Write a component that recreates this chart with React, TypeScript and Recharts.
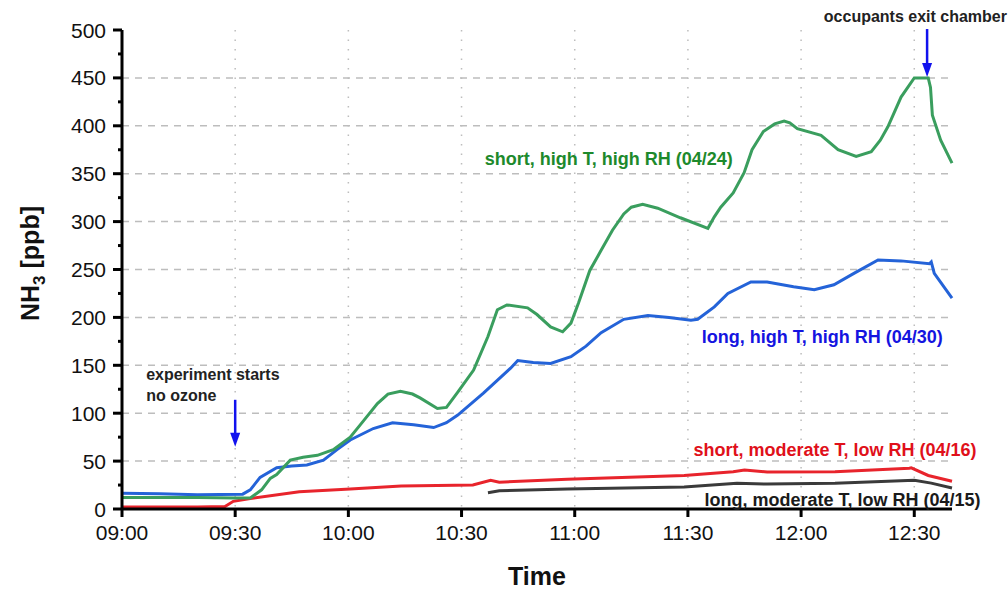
import React from "react";
import {
  CartesianGrid,
  Line,
  LineChart,
  ReferenceDot,
  ReferenceLine,
  XAxis,
  YAxis,
} from "recharts";

// minutes after 09:00 -> NH3 [ppb]
const shortHighT = [
  [0, 12], [10, 12], [20, 12], [30, 11.5], [34, 11.5], [37, 20], [39.3, 32], [41, 36],
  [44.6, 51], [48, 54], [51.8, 56], [56, 62], [60.5, 75], [64, 92], [67.7, 110],
  [70.5, 120], [73.8, 123], [77, 120], [79, 116], [83.6, 105], [86, 106], [89, 122],
  [93.2, 145], [97, 180], [99.5, 208], [102, 213], [107.5, 210], [110, 203],
  [113.6, 190], [116.8, 185], [119, 194], [121, 215], [124, 249], [127, 270],
  [130, 291], [133, 308], [135, 315], [138, 318], [142, 314], [148, 304],
  [155.3, 293], [157, 305], [158.7, 315], [162, 330], [164.9, 351], [167, 375],
  [170, 394], [173, 402], [175.5, 405], [177, 403], [179, 397], [185.3, 390],
  [189.8, 375], [194.6, 368], [198.6, 373], [201, 385], [203, 399], [206.5, 430],
  [210, 450], [213.7, 450], [214.3, 440], [214.8, 411], [217, 385], [220, 361],
];

const longHighT = [
  [0, 16.5], [10, 16], [20, 15], [32, 15.5], [34, 20], [36.6, 33], [41, 43], [45, 45],
  [49, 46], [53.4, 51], [57, 62], [60.5, 72], [66.6, 84], [71.7, 90], [77.3, 88],
  [82.6, 85], [86, 90], [89, 98], [95.8, 121], [103, 147], [104.9, 155], [109, 153],
  [113.6, 152], [119, 159], [123, 170], [127, 184], [133, 198], [139.4, 202],
  [145, 200], [150.8, 197], [152.6, 198], [157, 211], [160.6, 225], [166.7, 237],
  [171, 237], [178, 232], [183.5, 229], [188.7, 234], [194, 246], [200.4, 260],
  [206.5, 259], [214, 256], [214.5, 258], [215.3, 246], [220, 220],
];

const shortModT = [
  [0, 2], [10, 2], [20, 2], [27.3, 2.5], [29.5, 8], [34, 11], [47, 18], [60.5, 21],
  [74, 24], [93, 25], [97.7, 30], [100, 28], [118, 31], [149, 35], [162, 39],
  [165, 40.7], [171, 38.6], [189, 39], [208.7, 42.6], [209.2, 43], [213.7, 35], [220, 29],
];

const longModT = [
  [97, 17], [100, 19], [118, 21], [149, 23], [163, 27], [171, 26], [189, 27],
  [210, 30], [214.5, 27], [220, 22],
];

const timeTicks = [0, 30, 60, 90, 120, 150, 180, 210];
const timeLabels = ["09:00", "09:30", "10:00", "10:30", "11:00", "11:30", "12:00", "12:30"];
const yTicks = [0, 25, 50, 75, 100, 125, 150, 175, 200, 225, 250, 275, 300, 325, 350, 375, 400, 425, 450, 475, 500];
const gridY = [50, 100, 150, 200, 250, 300, 350, 400, 450];
const gridX = [30, 60, 90, 120, 150, 180, 210];

const seriesLabels = [
  { text: "short, high T, high RH (04/24)", t: 129, v: 366, color: "#1d8a2c" },
  { text: "long, high T, high RH (04/30)", t: 185.6, v: 180, color: "#1414e0" },
  { text: "short, moderate T, low RH (04/16)", t: 189, v: 62.5, color: "#e0101a" },
  { text: "long, moderate T, low RH (04/15)", t: 191, v: 9.5, color: "#1a1a1a" },
];

const toPoints = (rows: number[][]) => rows.map(([t, v]) => ({ t, v }));

const FONT = "'Liberation Sans', Arial, sans-serif";

const YTick = (props: any) => {
  const { x, y, payload } = props;
  const major = payload.value % 50 === 0;
  return (
    <g>
      <line x1={x - (major ? 9 : 4)} x2={x} y1={y} y2={y} stroke="#000" strokeWidth={3} />
      {major && (
        <text x={x - 16} y={y} dy="0.36em" textAnchor="end" fontSize={21} fill="#111" fontFamily={FONT}>
          {payload.value}
        </text>
      )}
    </g>
  );
};

const YTitle = (props: any) => {
  const { viewBox } = props;
  const cx = viewBox.x + 30;
  const cy = viewBox.y + viewBox.height / 2 - 6;
  return (
    <text
      x={cx}
      y={cy}
      transform={`rotate(-90, ${cx}, ${cy})`}
      textAnchor="middle"
      dy="0.36em"
      fontSize={25}
      fontWeight="bold"
      fill="#111"
      fontFamily={FONT}
    >
      NH<tspan dy={6} fontSize={17}>3</tspan>
      <tspan dy={-6}> [ppb]</tspan>
    </text>
  );
};

const XTitle = (props: any) => {
  const { viewBox } = props;
  return (
    <text
      x={viewBox.x + viewBox.width / 2}
      y={viewBox.y + 76}
      textAnchor="middle"
      fontSize={25}
      fontWeight="bold"
      fill="#111"
      fontFamily={FONT}
    >
      Time
    </text>
  );
};

const arrowShape = (props: any) => {
  const { x1, y1, x2, y2 } = props;
  return (
    <g>
      <line x1={x1} y1={y1} x2={x2} y2={y2 - 10} stroke="#1212ee" strokeWidth={2.5} />
      <polygon points={`${x2 - 5},${y2 - 14} ${x2 + 5},${y2 - 14} ${x2},${y2}`} fill="#1212ee" />
    </g>
  );
};

const textShape = (text: string, color: string, size: number) => (p: any) => (
  <text
    x={p.cx}
    y={p.cy}
    dy="0.36em"
    textAnchor="middle"
    fontSize={size}
    fontWeight="bold"
    fill={color}
    fontFamily={FONT}
  >
    {text}
  </text>
);

const App = () => {
  return (
    <div style={{ position: "absolute", left: 0, top: 0, background: "#fff" }}>
      <LineChart
        width={1008}
        height={590}
        margin={{ top: 30, right: 56, left: 0, bottom: 0 }}
        style={{ fontFamily: FONT }}
      >
        <CartesianGrid
          horizontal={true}
          vertical={false}
          horizontalValues={gridY}
          stroke="#bdbdbd"
          strokeWidth={1.5}
          strokeDasharray="7 6"
        />
        <CartesianGrid
          horizontal={false}
          vertical={true}
          verticalValues={gridX}
          stroke="#bdbdbd"
          strokeWidth={1.5}
          strokeDasharray="1.5 8"
        />
        <XAxis
          type="number"
          dataKey="t"
          domain={[0, 220]}
          ticks={timeTicks}
          tickFormatter={(v: number) => timeLabels[timeTicks.indexOf(v)]}
          height={81}
          tickSize={8}
          tickMargin={8}
          axisLine={{ stroke: "#000", strokeWidth: 3 }}
          tickLine={{ stroke: "#000", strokeWidth: 3 }}
          tick={{ fontSize: 21, fill: "#111", fontFamily: FONT }}
          label={<XTitle />}
        />
        <YAxis
          type="number"
          domain={[0, 500]}
          ticks={yTicks}
          interval={0}
          width={122}
          tickSize={0}
          tickMargin={0}
          tickLine={false}
          axisLine={{ stroke: "#000", strokeWidth: 3 }}
          tick={<YTick />}
          label={<YTitle />}
        />
        <Line data={toPoints(shortModT)} dataKey="v" type="linear" stroke="#e8242c" strokeWidth={3} dot={false} isAnimationActive={false} />
        <Line data={toPoints(longModT)} dataKey="v" type="linear" stroke="#3a3a3a" strokeWidth={3} dot={false} isAnimationActive={false} />
        <Line data={toPoints(longHighT)} dataKey="v" type="linear" stroke="#2463d8" strokeWidth={3} dot={false} isAnimationActive={false} />
        <Line data={toPoints(shortHighT)} dataKey="v" type="linear" stroke="#3a9e5e" strokeWidth={3} dot={false} isAnimationActive={false} />
        {seriesLabels.map((l) => (
          <ReferenceDot key={l.text} x={l.t} y={l.v} r={0} ifOverflow="visible" shape={textShape(l.text, l.color, 18)} />
        ))}
        <ReferenceDot
          x={6.4}
          y={141}
          r={0}
          ifOverflow="visible"
          shape={(p: any) => (
            <text x={p.cx} y={p.cy} dy="0.36em" fontSize={16} fontWeight="bold" fill="#222" fontFamily={FONT}>
              <tspan x={p.cx}>experiment starts</tspan>
              <tspan x={p.cx} dy={21}>no ozone</tspan>
            </text>
          )}
        />
        <ReferenceDot x={210.3} y={514.6} r={0} ifOverflow="visible" shape={textShape("occupants exit chamber", "#222", 16)} />
        <ReferenceLine
          segment={[{ x: 30, y: 114 }, { x: 30, y: 65 }]}
          ifOverflow="visible"
          shape={arrowShape}
        />
        <ReferenceLine
          segment={[{ x: 213.4, y: 501 }, { x: 213.4, y: 451 }]}
          ifOverflow="visible"
          shape={arrowShape}
        />
      </LineChart>
    </div>
  );
};

export default App;
